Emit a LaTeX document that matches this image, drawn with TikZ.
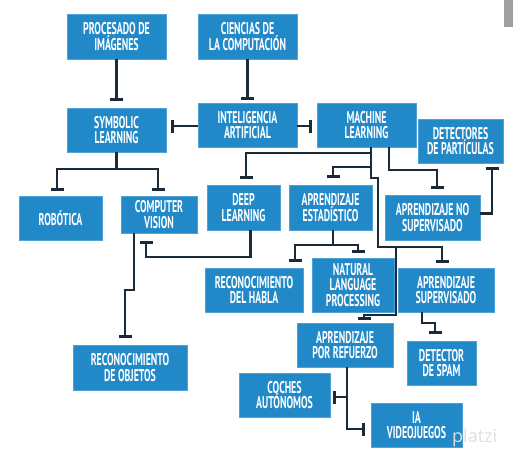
\documentclass[tikz,border=0pt]{standalone}
\usepackage{fontspec}
\setmainfont[FakeStretch=0.58]{PT Sans}
\newfontfamily\wmfont{Open Sans}
\usetikzlibrary{arrows.meta}
\definecolor{boxblue}{HTML}{2289C9}
\definecolor{boxedge}{HTML}{4FA3D9}
\definecolor{linec}{HTML}{1B2A38}
\tikzset{
  box/.style={fill=boxblue, draw=boxedge, line width=0.6pt, text=white, align=center,
    inner sep=0pt, font=\fontsize{17}{15.5}\selectfont\bfseries},
  conn/.style={draw=linec, line width=2.3pt, -{Bar[width=13pt]}},
}
\begin{document}
\begin{tikzpicture}[x=1pt,y=-1pt]
\useasboundingbox (0,0) rectangle (513,461);
\fill[white] (0,0) rectangle (513,461);
\fill[gray!75] (504,0) rectangle (513,27);

% nodes
\node[box, minimum width=99pt, minimum height=45pt] (proc) at (116.5,36.5) {PROCESADO DE\\IMÁGENES};
\node[box, minimum width=99pt, minimum height=45pt] (cienc) at (247.5,36.5) {CIENCIAS DE\\LA COMPUTACIÓN};
\node[box, minimum width=99pt, minimum height=44pt] (symb) at (116.5,130) {SYMBOLIC\\LEARNING};
\node[box, minimum width=99pt, minimum height=44pt] (ia) at (247.5,125) {INTELIGENCIA\\ARTIFICIAL};
\node[box, minimum width=99pt, minimum height=44pt] (ml) at (366.5,125) {MACHINE\\LEARNING};
\node[box, minimum width=85pt, minimum height=44pt] (det) at (460.5,141) {DETECTORES\\DE PARTÍCULAS};
\node[box, minimum width=83pt, minimum height=44pt] (rob) at (60.5,218) {ROBÓTICA};
\node[box, minimum width=76pt, minimum height=37pt] (cv) at (159,214.5) {COMPUTER\\VISION};
\node[box, minimum width=73pt, minimum height=45pt] (dl) at (243.5,207.5) {DEEP\\LEARNING};
\node[box, minimum width=83pt, minimum height=45pt] (ae) at (330.5,207.5) {APRENDIZAJE\\ESTADÍSTICO};
\node[box, minimum width=95pt, minimum height=45pt] (ans) at (432.5,217.5) {APRENDIZAJE NO\\SUPERVISADO};
\node[box, minimum width=98pt, minimum height=44pt] (rh) at (254,290) {RECONOCIMIENTO\\DEL HABLA};
\node[box, minimum width=82pt, minimum height=54pt] (nlp) at (353,285) {NATURAL\\LANGUAGE\\PROCESSING};
\node[box, minimum width=96pt, minimum height=44pt] (as) at (446,290) {APRENDIZAJE\\SUPERVISADO};
\node[box, minimum width=114pt, minimum height=45pt] (ro) at (130,367.5) {RECONOCIMIENTO\\DE OBJETOS};
\node[box, minimum width=96pt, minimum height=44pt] (apr) at (345,345) {APRENDIZAJE\\POR REFUERZO};
\node[box, minimum width=69pt, minimum height=44pt] (spam) at (441.5,363) {DETECTOR\\DE SPAM};
\node[box, minimum width=91pt, minimum height=44pt] (coches) at (284.5,395) {COCHES\\AUTÓNOMOS};
\node[box, minimum width=91pt, minimum height=44pt] (iav) at (416.5,425) {IA\\VIDEOJUEGOS};

% junction coordinates
\coordinate (j1) at (378,247);
\coordinate (j2) at (396,247);
\coordinate (n1) at (347,397);

% connectors
\draw[conn, shorten >=7pt] (proc.south) -- (symb.north);
\draw[conn, shorten >=3pt] (cienc.south) -- (ia.north);
\draw[conn, shorten >=5pt] ([yshift=-1pt]ia.west) -- ([yshift=-1pt]symb.east |- ia.west);
\draw[conn, shorten >=5pt] ([yshift=-1pt]ia.east) -- ([yshift=-1pt]ml.west);

\draw[conn, shorten >=5pt] (symb.south) -- ++(0,17) -| ([xshift=-3.5pt]rob.north);
\draw[conn, shorten >=5pt] (symb.south) -- ++(0,17) -| ([xshift=-1pt]cv.north);

\draw[conn, shorten >=8pt] ([xshift=7pt]dl.south) -- ++(0,27) -| ([xshift=-13pt]cv.south);
\draw[conn, shorten >=7pt] ([xshift=-25pt]cv.south) -- ++(0,57) -| ([xshift=-5pt]ro.north);

\draw[conn, shorten >=6pt] ([xshift=4.5pt]ml.south) -- ++(0,6) -| ([xshift=2.5pt]dl.north);
\draw[conn, shorten >=7pt] ([xshift=4.5pt]ml.south) -- ++(0,20) -| ([xshift=2.5pt]ae.north);
\draw[draw=linec, line width=2.3pt] ([xshift=4.5pt]ml.south) -- ++(0,31) -| (j1) -- (j2);
\draw[conn, shorten >=5pt] (j1) -| ([xshift=-4pt]as.north);
\draw[conn, shorten >=3pt] (j2) -- (396,315) -| ([xshift=19pt]apr.north);

\draw[conn, shorten >=6pt] ([xshift=22.5pt]ml.south) -- ++(0,23) -| ([xshift=4.5pt]ans.north);
\draw[conn, shorten >=4pt] ([yshift=4pt]ans.east) -| ([xshift=31.5pt]det.south);

\draw[conn, shorten >=7pt] ([xshift=-24pt]as.south) -- ++(0,11) -| ([xshift=-6.5pt]spam.north);

\draw[conn, shorten >=6pt] ([xshift=2pt]apr.south) |- ([yshift=-4pt]iav.west);
\draw[conn, shorten >=3pt] (n1) -- ([yshift=-2pt]coches.east);

\draw[conn, shorten >=6pt] ([xshift=2.5pt]ae.south) -- ++(0,15) -| ([xshift=41pt]rh.north);
\draw[conn, shorten >=5pt] ([xshift=2.5pt]ae.south) -- ++(0,15) -| ([xshift=5pt]nlp.north);

% watermark
\node[anchor=west, text=gray!25, font=\wmfont\fontsize{18}{18}\selectfont, inner sep=0pt] (wm) at (452,438) {platzi};
\end{tikzpicture}
\end{document}
